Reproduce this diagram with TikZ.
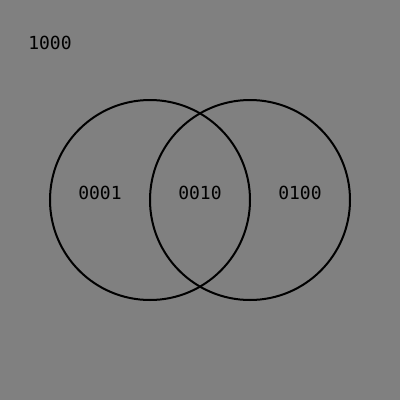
\documentclass[tikz,border=0pt]{standalone}
\usepackage{fontspec}
\setmonofont{DejaVu Sans Mono}

\begin{document}
\begin{tikzpicture}[
  x=1pt,y=-1pt,
  set/.style={draw=black,line width=2pt,circle,minimum size=200pt,inner sep=0pt},
  code/.style={font=\ttfamily\fontsize{18}{18}\selectfont,text=black,inner sep=0pt}]
\fill[gray] (0,0) rectangle (400,400);
\useasboundingbox (0,0) rectangle (400,400);
\node[set] (left) at (150,200) {};
\node[set] (right) at (250,200) {};
\node[code] (outer) at (50,43) {1000};
\node[code] (onlyleft) at (100,193) {0001};
\node[code] (both) at (200,193) {0010};
\node[code] (onlyright) at (300,193) {0100};
\end{tikzpicture}
\end{document}
